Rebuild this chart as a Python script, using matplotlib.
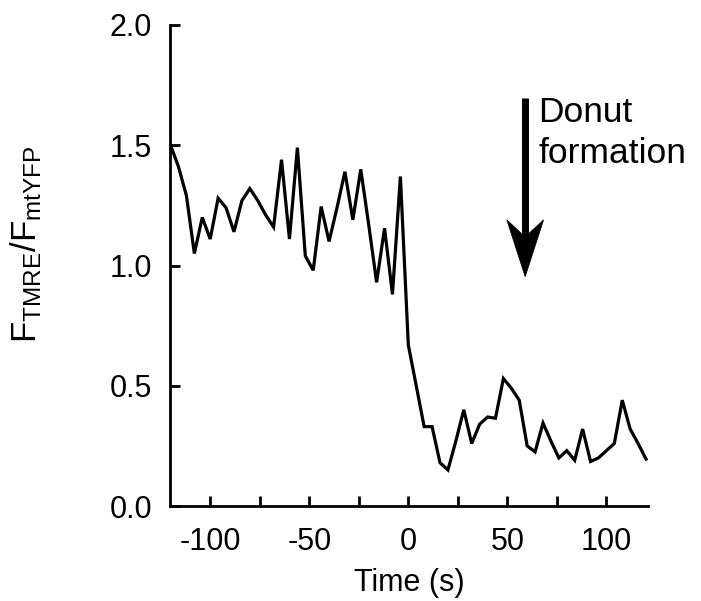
import matplotlib
matplotlib.use("Agg")
import matplotlib.pyplot as plt
from matplotlib.patches import Polygon

plt.rcParams['font.family'] = ['Liberation Sans', 'DejaVu Sans']
plt.rcParams['mathtext.fontset'] = 'custom'
plt.rcParams['mathtext.rm'] = 'Liberation Sans'
plt.rcParams['mathtext.it'] = 'Liberation Sans'
plt.rcParams['axes.unicode_minus'] = False

# Data
time_s = [-120, -116, -112, -108, -104, -100, -96, -92, -88, -84, -80, -76, -72, -68,
          -64, -60, -56, -52, -48, -44, -40, -36, -32, -28, -24, -20, -16, -12, -8, -4,
          0, 4, 8, 12, 16, 20, 24, 28, 32, 36, 40, 44, 48, 52, 56, 60, 64, 68, 72, 76,
          80, 84, 88, 92, 96, 100, 104, 108, 112, 116, 120]
ratio = [1.50, 1.41, 1.29, 1.05, 1.20, 1.11, 1.28, 1.24, 1.14, 1.27, 1.32, 1.27, 1.21, 1.16,
         1.44, 1.11, 1.49, 1.04, 0.98, 1.245, 1.10, 1.24, 1.39, 1.19, 1.40, 1.17, 0.93, 1.155, 0.88, 1.37,
         0.67, 0.50, 0.33, 0.33, 0.18, 0.15, 0.27, 0.40, 0.26, 0.34, 0.37, 0.365, 0.53, 0.49, 0.44, 0.25,
         0.225, 0.345, 0.27, 0.20, 0.23, 0.19, 0.32, 0.185, 0.20, 0.23, 0.26, 0.44, 0.32, 0.26, 0.195]

x_major = [-100, -50, 0, 50, 100]
x_minor = [-75, -25, 25, 75]
y_ticks = [0.0, 0.5, 1.0, 1.5, 2.0]
y_ticklabels = ['0.0', '0.5', '1.0', '1.5', '2.0']

arrow_t = 59
arrow_top = 1.695
arrow_tip = 0.953
annot_text = 'Donut\nformation'

fig = plt.figure(figsize=(7.01, 6.01), dpi=100)
ax = fig.add_axes([170/701, 1-506/601, (648-170)/701, (506-25)/601])

ax.plot(time_s, ratio, color='black', lw=2.3, solid_joinstyle='miter')

ax.set_xlim(-120.3, 121)
ax.set_ylim(0, 2.0)
ax.spines['top'].set_visible(False)
ax.spines['right'].set_visible(False)
for s in ['left', 'bottom']:
    ax.spines[s].set_linewidth(2.0)

ax.set_xticks(x_major)
ax.set_xticks(x_minor, minor=True)
ax.set_yticks(y_ticks)
ax.set_yticklabels(y_ticklabels)
ax.tick_params(axis='both', which='both', direction='in', width=2.0, length=7,
               labelsize=22, colors='black')
ax.tick_params(axis='x', which='both', pad=15)
ax.tick_params(axis='y', pad=13)

ax.set_xlabel('Time (s)', fontsize=22, labelpad=8)
fig.text(26/701, 1-244/601, r'F$_{\mathregular{TMRE}}$/F$_{\mathregular{mtYFP}}$',
         rotation=90, fontsize=25, ha='center', va='center')

# Arrow
head_len = 0.237
notch = 0.166
half_w = 9.3
ax.plot([arrow_t, arrow_t], [arrow_top, arrow_tip + notch], color='black', lw=5,
        solid_capstyle='butt')
head = Polygon([[arrow_t, arrow_tip],
                [arrow_t - half_w, arrow_tip + head_len],
                [arrow_t, arrow_tip + notch],
                [arrow_t + half_w, arrow_tip + head_len]],
               closed=True, facecolor='black', edgecolor='black', lw=0.5)
ax.add_patch(head)
ax.text(65.5, 1.425, annot_text, fontsize=25.5, ha='left', va='baseline',
        linespacing=1.3)

fig.savefig('out.png', dpi=100)
